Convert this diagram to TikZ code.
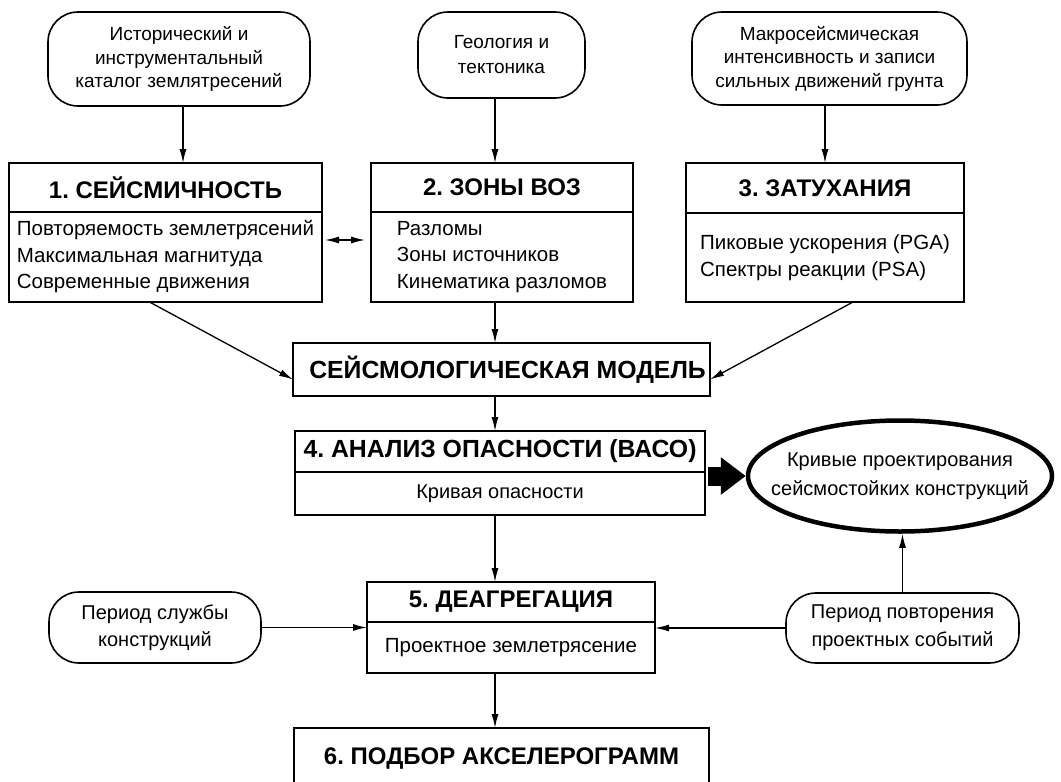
\documentclass[tikz,border=0pt]{standalone}
\usepackage{fontspec}
\setmainfont{Liberation Sans}
\frenchspacing
\usetikzlibrary{arrows.meta,shapes.geometric,positioning}

\tikzset{
  >={Latex[length=14pt,width=7pt]},
  srcbox/.style={draw, line width=1.6pt, rounded corners=30pt, align=center,
    inner sep=0pt, outer sep=0pt, font=\fontsize{19}{23.5}\selectfont},
  headbox/.style={draw, line width=1.6pt, inner sep=0pt, outer sep=0pt,
    font=\fontsize{24}{28}\selectfont\bfseries},
  bodybox/.style={draw, line width=1.6pt, inner sep=0pt, outer sep=0pt,
    align=left, font=\fontsize{20.5}{26.5}\selectfont},
  conn/.style={->, line width=1.3pt},
}

\begin{document}
\begin{tikzpicture}[x=1pt, y=-1pt]
  \useasboundingbox (0,0) rectangle (1061,782);
  \coordinate (spine) at (495,0);

  % input data
  \node[srcbox, minimum width=262pt, minimum height=94pt] (A) at (179,59)
    {Исторический и\\инструментальный\\каталог землятресений};
  \node[srcbox, minimum width=167pt, minimum height=86pt,
        font=\fontsize{19}{25}\selectfont] (B) at (501.5,55)
    {Геология и\\тектоника};
  \node[srcbox, minimum width=275pt, minimum height=93pt] (C) at (829.5,58.5)
    {Макросейсмическая\\интенсивность и записи\\сильных движений грунта};

  % blocks 1-3
  \node[headbox, minimum width=313pt, minimum height=49pt] (B1t) at (165.5,187.5)
    {1. СЕЙСМИЧНОСТЬ};
  \node[bodybox, minimum width=313pt, minimum height=90pt, below=0pt of B1t] (B1b)
    {Повторяемость землетрясений\\Максимальная магнитуда\\Современные движения};

  \node[headbox, minimum width=262pt, minimum height=49pt] (B2t) at (502,187.5)
    {2. ЗОНЫ ВОЗ};
  \node[bodybox, minimum width=262pt, minimum height=90pt, below=0pt of B2t] (B2b)
    {Разломы\\Зоны источников\\Кинематика разломов};

  \node[headbox, minimum width=278pt, minimum height=50pt] (B3t) at (825,188)
    {3. ЗАТУХАНИЯ};
  \node[bodybox, minimum width=278pt, minimum height=89pt, below=0pt of B3t] (B3b)
    {Пиковые ускорения (PGA)\\Спектры реакции (PSA)};

  % model and hazard
  \node[headbox, minimum width=417pt, minimum height=53pt,
        font=\fontsize{24.8}{28}\selectfont\bfseries] (M) at (501.5,369.5)
    {\hspace*{12pt}СЕЙСМОЛОГИЧЕСКАЯ МОДЕЛЬ};

  \node[headbox, minimum width=410pt, minimum height=41pt,
        font=\fontsize{24.8}{28}\selectfont\bfseries] (B4t) at (500,451.5)
    {4. АНАЛИЗ ОПАСНОСТИ (ВАСО)};
  \node[bodybox, minimum width=410pt, minimum height=43pt, below=0pt of B4t,
        font=\fontsize{20}{24}\selectfont] (B4b)
    {Кривая опасности};

  \node[ellipse, draw, line width=4.5pt, minimum width=304pt, minimum height=111pt,
        inner xsep=-30pt, inner ysep=0pt, align=center,
        font=\fontsize{20}{29}\selectfont] (D) at (900,476)
    {Кривые проектирования\\сейсмостойких конструкций};

  % deaggregation
  \node[srcbox, minimum width=212pt, minimum height=71pt,
        font=\fontsize{20}{27}\selectfont] (L) at (155,627.5)
    {Период службы\\конструкций};
  \node[srcbox, minimum width=233pt, minimum height=70pt,
        font=\fontsize{20}{28}\selectfont] (R) at (902.5,628)
    {Период повторения\\проектных событий};

  \node[headbox, minimum width=288pt, minimum height=40pt] (B5t) at (511,602)
    {5. ДЕАГРЕГАЦИЯ};
  \node[bodybox, minimum width=288pt, minimum height=51pt, below=0pt of B5t] (B5b)
    {Проектное землетрясение};

  \node[headbox, minimum width=415pt, minimum height=62pt] (B6) at (501.5,759)
    {6. ПОДБОР АКСЕЛЕРОГРАММ};

  % connectors
  \draw[conn] (A.south -| 183,0) -- (B1t.north -| 183,0);
  \draw[conn] (B.south -| spine) -- (B2t.north -| spine);
  \draw[conn] (C.south -| B3t.north) -- (B3t.north);
  \draw[<->, line width=1.3pt] ([xshift=3pt,yshift=17pt]B1b.east)
    -- ([xshift=-6pt,yshift=17pt]B2b.west);
  \draw[conn] ([xshift=-16pt]B1b.south) -- ([yshift=-10pt]M.west);
  \draw[conn] (B2b.south -| spine) -- (M.north -| spine);
  \draw[conn] ([xshift=28pt]B3b.south) -- ([yshift=-10pt]M.east);
  \draw[conn] (M.south -| spine) -- (B4t.north -| spine);
  \draw[line width=19pt, -{Triangle[length=25pt,width=36pt]}, shorten <=3pt]
    (B4t.south east |- D.west) -- (D.west);
  \draw[conn] (B4b.south -| spine) -- (B5t.north -| spine);
  \draw[conn] (L.east) -- (L.east -| B5b.west);
  \draw[conn] (R.west) -- (R.west -| B5b.east);
  \draw[conn] (R.north) -- (R.north |- D.south);
  \draw[conn] (B5b.south -| spine) -- (B6.north -| spine);
\end{tikzpicture}
\end{document}
